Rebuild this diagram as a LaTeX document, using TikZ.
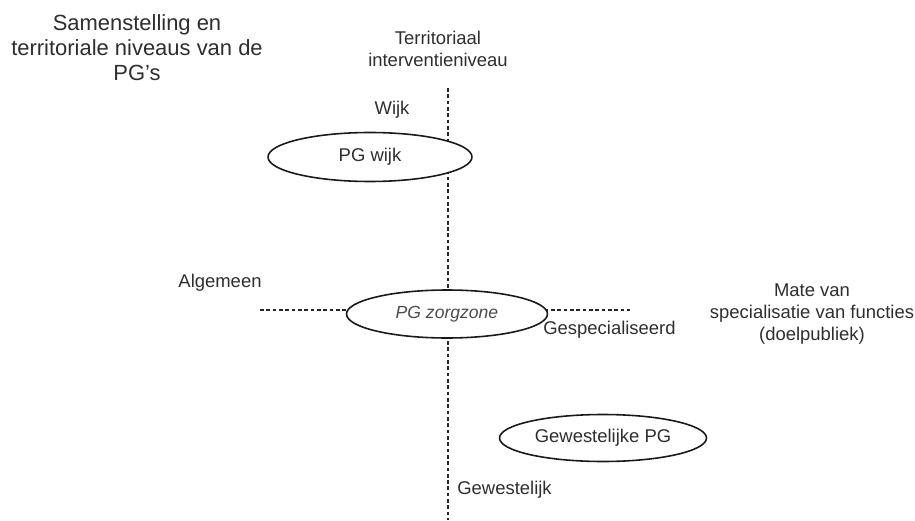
\documentclass[tikz,border=0pt]{standalone}
\usepackage{fontspec}
\setmainfont{Liberation Sans}
\usetikzlibrary{shapes.geometric}
\definecolor{txt}{HTML}{2E2E2E}
\begin{document}
\begin{tikzpicture}[x=0.02cm,y=-0.02cm,
  axisline/.style={draw=black!85,line width=0.6pt,dash pattern=on 2.1pt off 1.5pt},
  pgbox/.style={ellipse,draw=black!90,line width=0.9pt,fill=white,inner sep=0pt},
  lbl/.style={text=txt,font=\fontsize{10.5}{12.5}\selectfont,inner sep=0pt,align=center},
  ttl/.style={text=txt,font=\fontsize{12.5}{14.2}\selectfont,inner sep=0pt,align=center}]
\useasboundingbox (0,0) rectangle (915,520);
% axes
\coordinate (vtop) at (448,88);
\coordinate (vbot) at (448,520);
\coordinate (hleft) at (260,310);
\coordinate (hright) at (630,310);
\draw[axisline] (vtop) -- (vbot);
\draw[axisline] (hleft) -- (hright);
% ellipses
\node[pgbox,minimum width=4.08cm,minimum height=0.98cm] (wijk) at (370,157) {};
\node[lbl] (wijktxt) at (370,157) {PG wijk};
\node[pgbox,minimum width=4.02cm,minimum height=0.96cm] (zorg) at (447,314) {};
\node[text=black!70,font=\fontsize{10}{12}\selectfont\itshape,inner sep=0pt] (zorgtxt) at (447,314) {PG zorgzone};
\node[pgbox,minimum width=4.14cm,minimum height=0.94cm] (gew) at (603,438) {};
\node[lbl] (gewtxt) at (603,438) {Gewestelijke PG};
% labels
\node[ttl] (title) at (137,48) {Samenstelling en\\territoriale niveaus van de\\PG’s};
\node[lbl] (terr) at (438,49) {Territoriaal\\interventieniveau};
\node[lbl] (wijklbl) at (392,110) {Wijk};
\node[lbl] (alg) at (220,283) {Algemeen};
\node[lbl,anchor=west] (spec) at (543,330) {Gespecialiseerd};
\node[lbl] (mate) at (812,314) {Mate van\\specialisatie van functies\\(doelpubliek)};
\node[lbl,anchor=west] (gewlbl) at (457,490) {Gewestelijk};
\end{tikzpicture}
\end{document}
